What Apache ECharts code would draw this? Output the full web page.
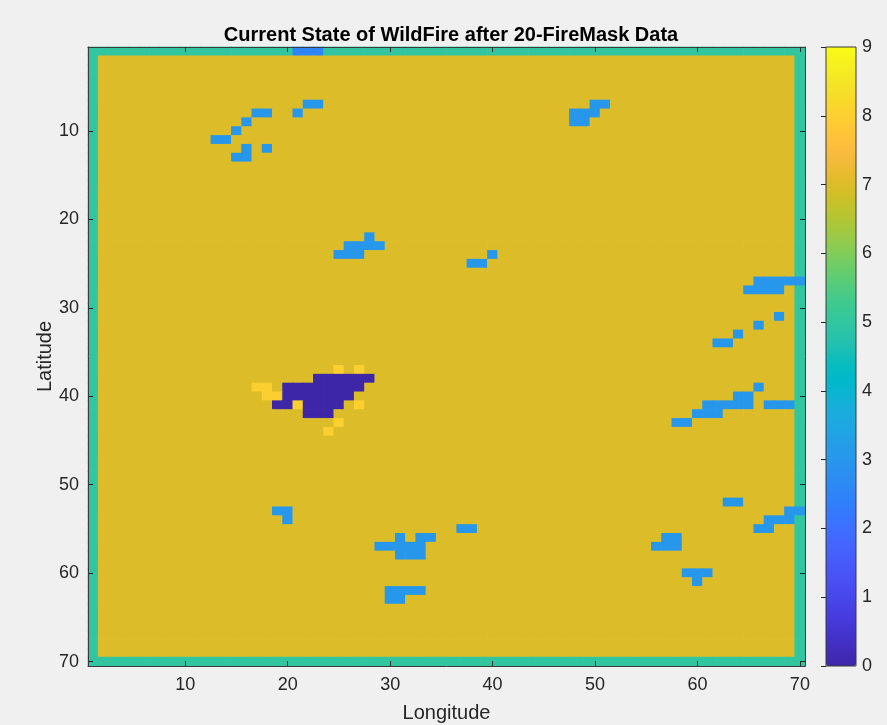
<!DOCTYPE html>
<html>
<head>
<meta charset="utf-8">
<script src="https://cdn.jsdelivr.net/npm/echarts@6/dist/echarts.min.js"></script>
<style>
html,body{margin:0;padding:0;background:#f0f0f0;}
#chart{width:887px;height:725px;}
</style>
</head>
<body>
<div id="chart"></div>
<script>
// Fire-mask state grid: 70 x 70 cells, row 1 at the top.
const GRID_SIZE = 70;
const BACKGROUND_STATE = 7;   // unburnt fuel
const BOUNDARY_STATE = 5;     // domain edge
const SPOT_STATE = 3;         // scattered fire-mask spots
const BURNT_STATE = 0;        // burnt-out core
const FLAME_STATE = 8;        // active flame front
const INLET_STATE = 2.5;      // patch on the top edge

// Runs of cells: [row, firstColumn, lastColumn]
const spotRuns = [
  [7, 22, 23], [7, 50, 51],
  [8, 17, 18], [8, 21, 21], [8, 48, 50],
  [9, 16, 16], [9, 48, 49],
  [10, 15, 15],
  [11, 13, 14],
  [12, 16, 16], [12, 18, 18],
  [13, 15, 16],
  [22, 28, 28],
  [23, 26, 29],
  [24, 25, 27], [24, 40, 40],
  [25, 38, 39],
  [27, 66, 70],
  [28, 65, 68],
  [31, 68, 68],
  [32, 66, 66],
  [33, 64, 64],
  [34, 62, 63],
  [39, 66, 66],
  [40, 64, 65],
  [41, 61, 65], [41, 67, 69],
  [42, 60, 62],
  [43, 58, 59],
  [52, 63, 64],
  [53, 19, 20], [53, 69, 70],
  [54, 20, 20], [54, 67, 69],
  [55, 37, 38], [55, 66, 67],
  [56, 31, 31], [56, 33, 34], [56, 57, 58],
  [57, 29, 33], [57, 56, 58],
  [58, 31, 33],
  [60, 59, 61],
  [61, 60, 60],
  [62, 30, 33],
  [63, 30, 31]
];
const burntRuns = [
  [38, 23, 28],
  [39, 20, 27],
  [40, 20, 26],
  [41, 19, 20], [41, 22, 25],
  [42, 22, 24]
];
const flameRuns = [
  [37, 25, 25], [37, 27, 27],
  [39, 17, 18],
  [40, 18, 19],
  [41, 21, 21], [41, 27, 27],
  [43, 25, 25],
  [44, 24, 24]
];
const inletRuns = [
  [1, 21, 23]
];

const axisTickValues = [10, 20, 30, 40, 50, 60, 70];
const colorbarTicks = [0, 1, 2, 3, 4, 5, 6, 7, 8, 9];

// parula colour map (64 steps)
const parula = [
  [0.2422,0.1504,0.6603],[0.2504,0.1650,0.7076],[0.2578,0.1818,0.7511],[0.2647,0.1978,0.7952],
  [0.2706,0.2147,0.8364],[0.2751,0.2342,0.8710],[0.2783,0.2559,0.8991],[0.2803,0.2782,0.9221],
  [0.2813,0.3006,0.9414],[0.2810,0.3228,0.9579],[0.2795,0.3447,0.9717],[0.2760,0.3667,0.9829],
  [0.2699,0.3892,0.9906],[0.2602,0.4123,0.9952],[0.2440,0.4358,0.9988],[0.2206,0.4603,0.9973],
  [0.1963,0.4847,0.9892],[0.1834,0.5074,0.9798],[0.1786,0.5289,0.9682],[0.1764,0.5499,0.9520],
  [0.1687,0.5703,0.9359],[0.1540,0.5902,0.9218],[0.1460,0.6091,0.9079],[0.1380,0.6276,0.8973],
  [0.1248,0.6459,0.8883],[0.1113,0.6635,0.8763],[0.0952,0.6798,0.8598],[0.0689,0.6948,0.8394],
  [0.0297,0.7082,0.8163],[0.0036,0.7203,0.7917],[0.0067,0.7312,0.7660],[0.0433,0.7411,0.7394],
  [0.0964,0.7500,0.7120],[0.1408,0.7584,0.6842],[0.1717,0.7670,0.6554],[0.1938,0.7758,0.6251],
  [0.2161,0.7843,0.5923],[0.2470,0.7918,0.5567],[0.2906,0.7973,0.5188],[0.3406,0.8008,0.4789],
  [0.3909,0.8029,0.4354],[0.4456,0.8024,0.3909],[0.5044,0.7993,0.3480],[0.5616,0.7942,0.3045],
  [0.6174,0.7876,0.2612],[0.6720,0.7793,0.2227],[0.7242,0.7698,0.1910],[0.7738,0.7598,0.1646],
  [0.8203,0.7498,0.1535],[0.8634,0.7406,0.1596],[0.9035,0.7330,0.1774],[0.9393,0.7288,0.2100],
  [0.9728,0.7298,0.2394],[0.9956,0.7434,0.2371],[0.9970,0.7659,0.2199],[0.9952,0.7893,0.2028],
  [0.9892,0.8136,0.1885],[0.9786,0.8386,0.1766],[0.9676,0.8639,0.1643],[0.9610,0.8890,0.1537],
  [0.9597,0.9135,0.1423],[0.9628,0.9373,0.1265],[0.9691,0.9606,0.1064],[0.9769,0.9839,0.0805]
].map(c => 'rgb(' + c.map(v => Math.round(v * 255)).join(',') + ')');

// Build the state matrix
const state = [];
for (let r = 1; r <= GRID_SIZE; r++) {
  const row = [];
  for (let c = 1; c <= GRID_SIZE; c++) {
    const edge = r === 1 || r === GRID_SIZE || c === 1 || c === GRID_SIZE;
    row.push(edge ? BOUNDARY_STATE : BACKGROUND_STATE);
  }
  state.push(row);
}
function paint(runs, value) {
  runs.forEach(([r, c0, c1]) => {
    for (let c = c0; c <= c1; c++) state[r - 1][c - 1] = value;
  });
}
paint(spotRuns, SPOT_STATE);
paint(burntRuns, BURNT_STATE);
paint(flameRuns, FLAME_STATE);
paint(inletRuns, INLET_STATE);

const cells = [];
for (let r = 0; r < GRID_SIZE; r++) {
  for (let c = 0; c < GRID_SIZE; c++) cells.push([c, r, state[r][c]]);
}
const indices = Array.from({ length: GRID_SIZE }, (_, i) => String(i + 1));
const showTick = (idx, val) => axisTickValues.includes(Number(val));

const FONT = '"Liberation Sans", Arial, Helvetica, sans-serif';
const INK = '#262626';
const AXIS_LINE = '#3a3a3a';

const plot = { left: 88, top: 47, width: 717, height: 619 };
const bar = { left: 826, top: 47, width: 30, height: 619 };

const chart = echarts.init(document.getElementById('chart'), null, { renderer: 'canvas' });

const tickStyle = { show: true, inside: true, length: 5, interval: showTick, alignWithLabel: true, lineStyle: { color: INK, width: 1 } };

// Each cell is a rect sized by the category bands; a hair of overlap hides anti-aliasing seams.
function renderCell(params, api) {
  const p = api.coord([api.value(0), api.value(1)]);
  const s = api.size([1, 1]);
  const pad = 0.35;
  return {
    type: 'rect',
    shape: { x: p[0] - s[0] / 2 - pad, y: p[1] - s[1] / 2 - pad, width: s[0] + 2 * pad, height: s[1] + 2 * pad },
    style: { fill: api.visual('color') }
  };
}

chart.setOption({
  backgroundColor: '#f0f0f0',
  animation: false,
  title: {
    text: 'Current State of WildFire after 20-FireMask Data',
    left: 446, top: 20, textAlign: 'center',
    textStyle: { fontFamily: FONT, fontSize: 20, fontWeight: 'bold', color: '#000' }
  },
  grid: [
    Object.assign({ containLabel: false, outerBoundsMode: 'none' }, plot),
    Object.assign({ show: true, borderColor: AXIS_LINE, borderWidth: 1, backgroundColor: 'transparent', z: 6, outerBoundsMode: 'none' }, bar)
  ],
  xAxis: [
    {
      type: 'category', data: indices, gridIndex: 0, position: 'bottom',
      name: 'Longitude', nameLocation: 'middle', nameGap: 37, nameMoveOverlap: false,
      nameTextStyle: { fontFamily: FONT, fontSize: 20, color: INK },
      axisLine: { show: true, lineStyle: { color: AXIS_LINE, width: 1 } },
      axisTick: tickStyle,
      axisLabel: { interval: showTick, fontFamily: FONT, fontSize: 18, color: INK, margin: 10 },
      splitLine: { show: false }, z: 5
    },
    {
      type: 'category', data: indices, gridIndex: 0, position: 'top',
      axisLine: { show: true, lineStyle: { color: AXIS_LINE, width: 1 } },
      axisTick: tickStyle, axisLabel: { show: false }, splitLine: { show: false }, z: 5
    },
    { type: 'value', gridIndex: 1, min: 0, max: 1, show: false }
  ],
  yAxis: [
    {
      type: 'category', data: indices, gridIndex: 0, inverse: true, position: 'left',
      name: 'Latitude', nameLocation: 'middle', nameGap: 33, nameRotate: 90, nameMoveOverlap: false,
      nameTextStyle: { fontFamily: FONT, fontSize: 20, color: INK },
      axisLine: { show: true, lineStyle: { color: AXIS_LINE, width: 1 } },
      axisTick: tickStyle,
      axisLabel: { interval: showTick, fontFamily: FONT, fontSize: 18, color: INK, margin: 9 },
      splitLine: { show: false }, z: 5
    },
    {
      type: 'category', data: indices, gridIndex: 0, inverse: true, position: 'right',
      axisLine: { show: true, lineStyle: { color: AXIS_LINE, width: 1 } },
      axisTick: tickStyle, axisLabel: { show: false }, splitLine: { show: false }, z: 5
    },
    {
      type: 'value', gridIndex: 1, min: colorbarTicks[0], max: colorbarTicks[colorbarTicks.length - 1],
      interval: 1, position: 'right', z: 7,
      axisLine: { show: false },
      axisTick: { show: true, inside: true, length: 5, lineStyle: { color: INK } },
      axisLabel: { fontFamily: FONT, fontSize: 18, color: INK, margin: 6 },
      splitLine: { show: false }
    }
  ],
  visualMap: {
    type: 'continuous', min: 0, max: 9, seriesIndex: 0, dimension: 2,
    calculable: false, hoverLink: false, realtime: false,
    left: bar.left, top: bar.top, itemWidth: bar.width, itemHeight: bar.height,
    padding: 0, text: null, showLabel: false,
    inRange: { color: parula }
  },
  series: [{
    type: 'custom', xAxisIndex: 0, yAxisIndex: 0,
    renderItem: renderCell,
    encode: { x: 0, y: 1 },
    data: cells,
    progressive: 0
  }]
});
</script>
</body>
</html>
